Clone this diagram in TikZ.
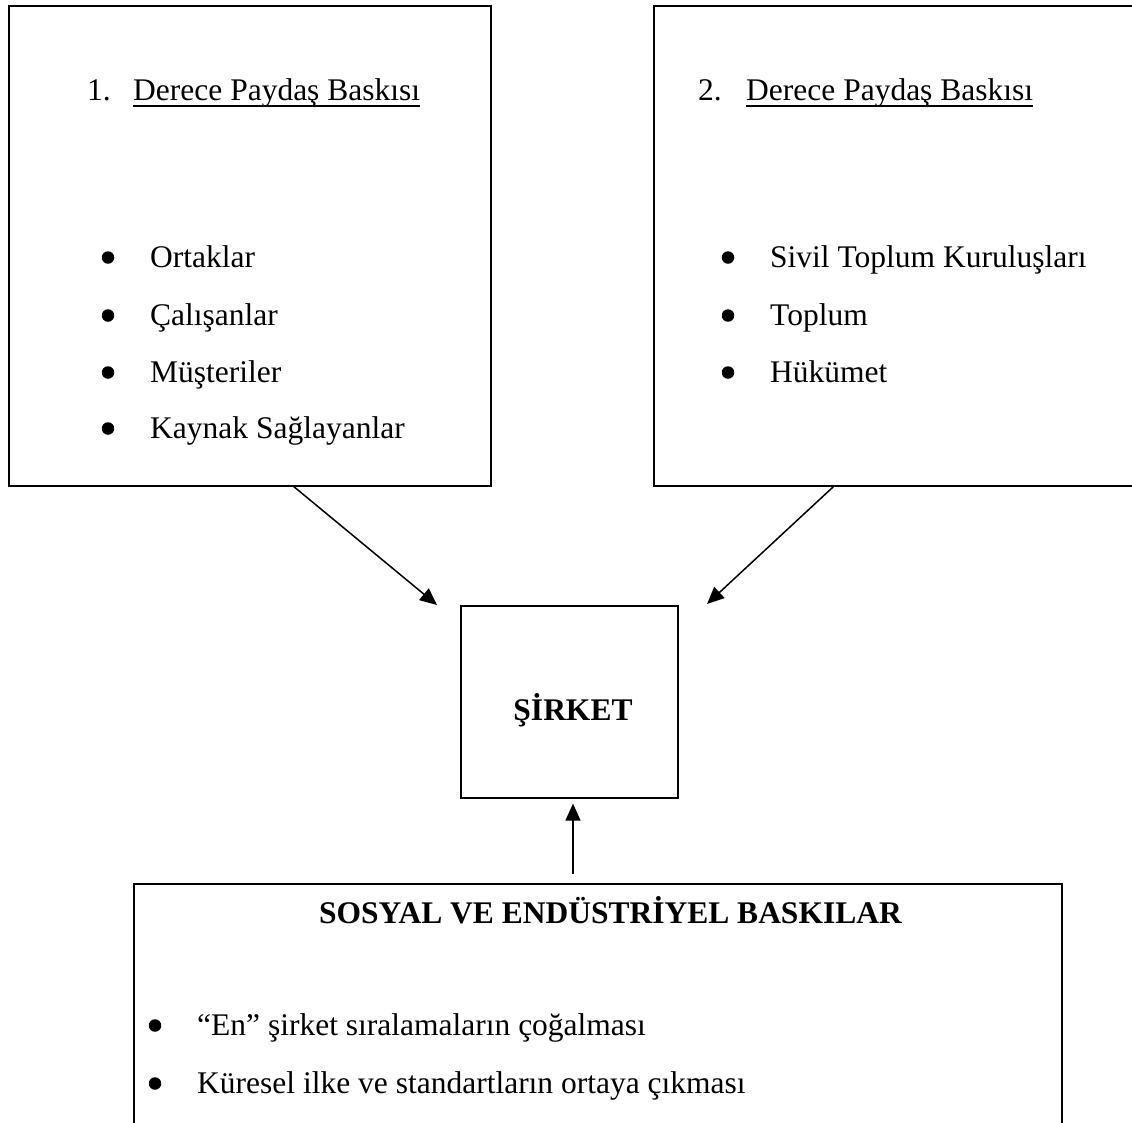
\documentclass[tikz,border=0pt]{standalone}
\usepackage{fontspec}
\setmainfont{Liberation Serif}
\usetikzlibrary{arrows.meta,calc}
\begin{document}
\begin{tikzpicture}[x=1pt,y=-1pt,
  frame/.style={draw, line width=1.6pt, rectangle, inner sep=0pt, anchor=north west},
  txt/.style={anchor=base west, inner sep=0pt, font=\fontsize{31.5}{38}\selectfont},
  boldtxt/.style={txt, font=\fontsize{31.5}{38}\selectfont\bfseries},
  dot/.style={circle, fill, inner sep=0pt, minimum size=12.5pt},
  link/.style={line width=1.5pt, -{Triangle[length=17pt,width=15pt]}},
  rule/.style={line width=1.5pt}]
\useasboundingbox (0,0) rectangle (1132,1122);
\clip (0,0) rectangle (1132,1122);
\fill[white] (0,0) rectangle (1132,1122);

% frames
\node[frame, minimum width=482pt, minimum height=480pt] (first) at (8,5) {};
\node[frame, minimum width=520pt, minimum height=480pt] (second) at (653,5) {};
\node[frame, minimum width=217pt, minimum height=192pt] (firm) at (460,605) {};
\node[frame, minimum width=928pt, minimum height=300pt] (social) at (133,883) {};

% first-degree stakeholders
\node[txt] (n1) at (87,100) {1.};
\node[txt] (h1) at (133,100) {Derece Paydaş Baskısı};
\draw[rule] ($(h1.base west)+(0,6)$) -- ($(h1.base east)+(0,6)$);
\foreach \i/\y/\t in {1/267/Ortaklar, 2/325/Çalışanlar, 3/382/Müşteriler, 4/438/Kaynak Sağlayanlar}{
  \node[dot] (a\i) at (108,\y-9.5) {};
  \node[txt] (at\i) at (150,\y) {\t};
}

% second-degree stakeholders
\node[txt] (n2) at (698,100) {2.};
\node[txt] (h2) at (746,100) {Derece Paydaş Baskısı};
\draw[rule] ($(h2.base west)+(0,6)$) -- ($(h2.base east)+(0,6)$);
\foreach \i/\y/\t in {1/267/Sivil Toplum Kuruluşları, 2/325/Toplum, 3/382/Hükümet}{
  \node[dot] (c\i) at (728,\y-9.5) {};
  \node[txt] (ct\i) at (770,\y) {\t};
}

% company
\node[boldtxt, anchor=base] (firmname) at (573,720) {ŞİRKET};

% social and industrial pressures
\node[boldtxt] (stitle) at (319,923) {SOSYAL VE ENDÜSTRİYEL BASKILAR};
\node[dot] (s1) at (155,1025.5) {};
\node[txt] (st1) at (197,1035) {“En” şirket sıralamaların çoğalması};
\node[dot] (s2) at (155,1083.5) {};
\node[txt] (st2) at (197,1093) {Küresel ilke ve standartların ortaya çıkması};

% arrows
\coordinate (t1) at (437,605);
\coordinate (t2) at (707,604);
\coordinate (up) at (573,0);
\draw[link] ($(first.south west)!0.591!(first.south east)$) -- (t1);
\draw[link] ($(second.south west)!0.346!(second.south east)$) -- (t2);
\draw[link, shorten <=9pt, shorten >=5pt] (up |- social.north) -- (up |- firm.south);
\end{tikzpicture}
\end{document}
